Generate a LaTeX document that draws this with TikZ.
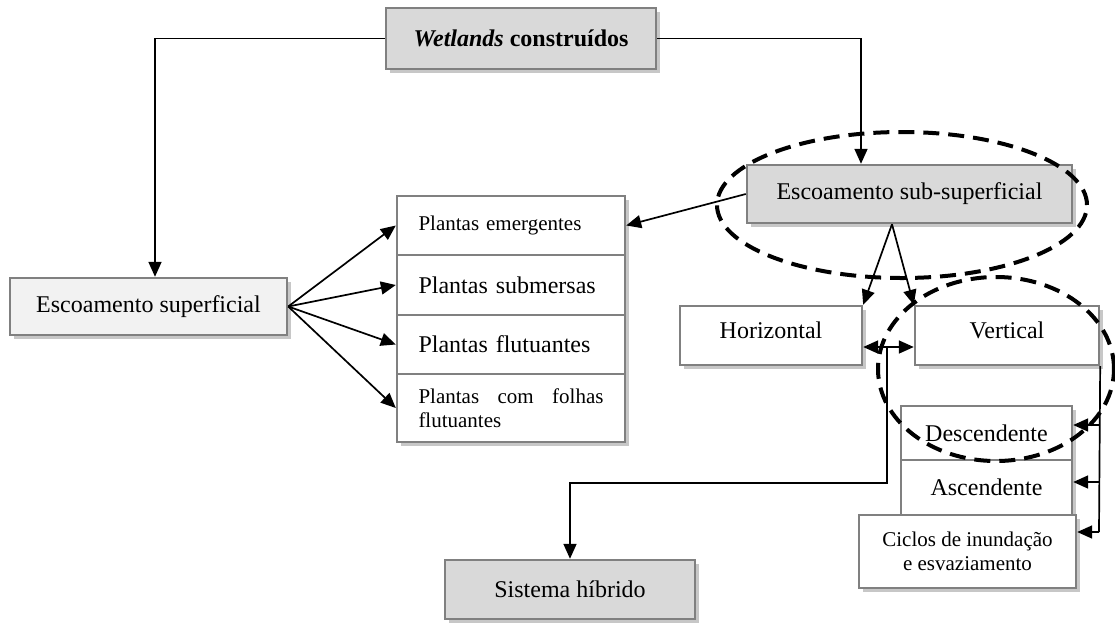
\documentclass[tikz,border=0pt]{standalone}
\usepackage{fontspec}
\setmainfont{Liberation Serif}
\usetikzlibrary{arrows.meta, shadows}
\def\fs#1{\fontsize{#1}{1.15\dimexpr#1pt\relax}\selectfont}

\tikzset{
  caixa/.style={draw=black!50, line width=1.2pt, fill=white, inner sep=2pt, font=\fs{12},
    drop shadow={shadow xshift=2pt, shadow yshift=-2pt, fill=black!22, opacity=1}},
  cinza/.style={caixa, fill=black!15},
  claro/.style={caixa, fill=black!5},
  planta/.style={caixa, minimum width=114pt, text width=92.5pt, inner xsep=10.75pt, align=left},
  seta/.style={line width=0.85pt, -{Triangle[length=7.5pt,width=6.5pt]}},
  linha/.style={line width=0.85pt},
  elipse/.style={line width=2pt, dash pattern=on 8pt off 4.5pt},
}

\begin{document}
\begin{tikzpicture}[x=0.5pt, y=-0.5pt]
  \useasboundingbox (0,0) rectangle (1115,623);
  % caixas
  \node[cinza, minimum width=135pt, minimum height=30.5pt] (wet) at (521,38.5) {\textbf{\textit{Wetlands} construídos}};
  \node[claro, minimum width=138.5pt, minimum height=28.5pt] (sup) at (148.5,306.5) {Escoamento superficial};
  \node[planta, minimum height=29.5pt, font=\fs{10.5}] (p1) at (511,225.5) {Plantas emergentes};
  \node[planta, minimum height=30pt] (p2) at (511,285) {Plantas submersas};
  \node[planta, minimum height=29.5pt] (p3) at (511,344.5) {Plantas flutuantes};
  \node[planta, minimum height=34pt, font=\fs{10.5}] (p4) at (511,408) {Plantas\hfill com\hfill folhas\\flutuantes};
  \node[cinza, minimum width=162.5pt, minimum height=29pt] (sub) at (909.5,194) {Escoamento sub-superficial};
  \node[caixa, minimum width=91pt, minimum height=29.5pt, text depth=5pt] (hor) at (771,335.5) {Horizontal};
  \node[caixa, minimum width=92pt, minimum height=29.5pt, text depth=5pt] (ver) at (1007,335.5) {Vertical};
  \node[caixa, minimum width=85.5pt, minimum height=27pt] (des) at (986.5,433) {Descendente};
  \node[caixa, minimum width=85.5pt, minimum height=27.5pt] (asc) at (986.5,487.5) {Ascendente};
  \node[caixa, minimum width=108.5pt, minimum height=36.5pt, align=center, font=\fs{10.5}] (cic) at (967.5,551.5) {Ciclos de inundação\\e esvaziamento};
  \node[cinza, minimum width=125pt, minimum height=29.5pt] (hib) at (570,589.5) {Sistema híbrido};

  % ligacoes
  \draw[seta] (wet.west) -| ([xshift=3.25pt]sup.north);
  \draw[seta] (wet.east) -| ([xshift=-24.25pt]sub.north);
  \foreach \p in {p1,p2,p3,p4}
    \draw[seta] (sup.east) -- (\p.west);
  \draw[seta] (sub.west) -- (p1.east);
  \draw[seta] ([xshift=-8.75pt]sub.south) -- (hor.north east);
  \draw[seta] ([xshift=-8.75pt]sub.south) -- (ver.north west);
  \coordinate (junc) at (887,347);
  \coordinate (volta) at (887,483);
  \draw[seta] (junc) -- (junc -| hor.east);
  \draw[seta] (junc) -- (junc -| ver.west);
  \draw[seta] (junc) -- (volta) -| (hib.north);
  \coordinate (r1) at (1099,425);
  \coordinate (r2) at (1099,482);
  \coordinate (r3) at (1099,532);
  \draw[linha] (ver.south east) -- (r3);
  \draw[seta] (r1) -- (r1 -| des.east);
  \draw[seta] (r2) -- (r2 -| asc.east);
  \draw[seta] (r3) -- (r3 -| cic.east);

  % elipses tracejadas
  \draw[elipse] (902,205) ellipse [x radius=92.5pt, y radius=36.5pt];
  \draw[elipse] (996,369) ellipse [x radius=59pt, y radius=46pt];
\end{tikzpicture}
\end{document}
